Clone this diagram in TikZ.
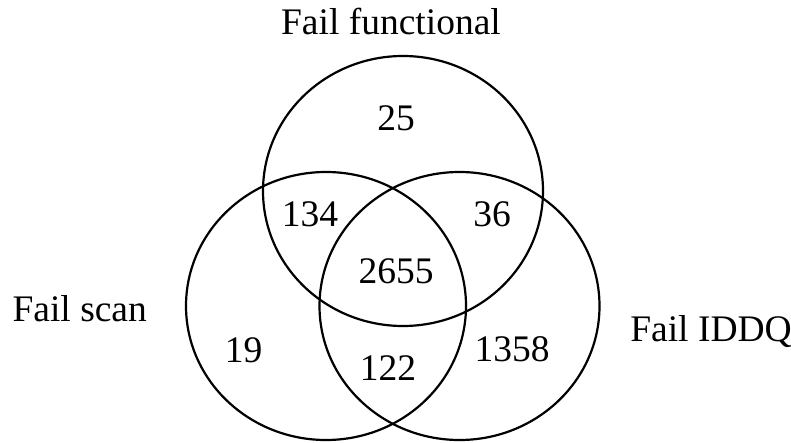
\documentclass[tikz,border=0pt]{standalone}
\usepackage{fontspec}
\setmainfont{Liberation Serif}
\begin{document}
\begin{tikzpicture}[x=0.5pt, y=-0.5pt, line width=1.1pt,
    every node/.style={font=\fontsize{18.75}{22}\selectfont, inner sep=0pt, anchor=base}]
            \useasboundingbox (0,0) rectangle (791,443);
            % the three sets
            \draw (403,191) ellipse [x radius=140, y radius=135];
            \draw (326,306) ellipse [x radius=140, y radius=134];
            \draw (459.5,306) ellipse [x radius=140, y radius=134];
            % set names
            \node (func) at (391,35) {Fail functional};
            \node (scan) at (79.7,321.7) {Fail scan};
            \node (iddq) at (711,341.7) {Fail IDDQ};
            % counts per region
            \foreach \name/\x/\y/\n in {onlyf/396/131/25, fs/310/227/134, fi/492/227/36,
                    all/396/283/2655, onlys/243.5/362/19, si/388/380/122, onlyi/512/361.7/1358}
                \node (\name) at (\x,\y) {\n};
        \end{tikzpicture}
\end{document}
